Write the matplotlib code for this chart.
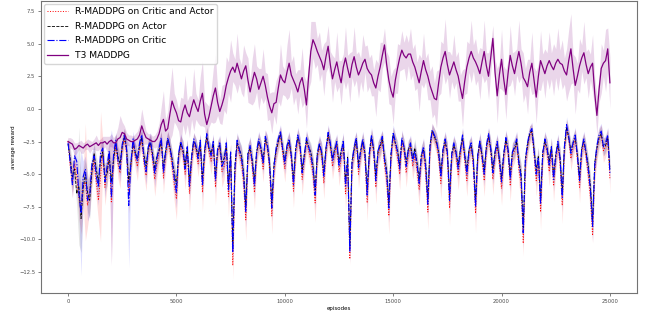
import numpy as np
import matplotlib
matplotlib.use("Agg")
import matplotlib.pyplot as plt

# episodes sampled every 100
episodes = np.arange(0, 25001, 100)

# R-MADDPG on Critic and Actor (red)
red_mean = [
    -2.5, -4.4, -5.5, -4.2, -5.2, -6.8, -7.6, -5.9, -5.6, -7.4,
    -6.2, -4.9, -4.0, -5.6, -7.0, -5.2, -3.2, -6.0, -4.8, -3.5,
    -7.2, -3.9, -2.8, -4.2, -4.9, -3.0, -2.3, -3.4, -6.4, -4.4,
    -2.7, -3.7, -4.4, -2.9, -2.4, -4.1, -5.1, -3.2, -2.7, -3.9,
    -5.4, -4.2, -3.3, -2.5, -5.3, -3.6, -2.5, -3.2, -4.4, -5.8,
    -6.9, -3.7, -2.8, -3.4, -5.0, -3.2, -6.5, -4.1, -2.6, -3.1,
    -4.2, -2.7, -6.4, -3.5, -2.2, -3.3, -4.0, -2.8, -6.0, -3.3,
    -2.9, -4.8, -4.4, -2.9, -6.8, -3.6, -12.0, -5.0, -2.7, -3.4,
    -4.1, -5.7, -8.5, -3.7, -3.1, -4.5, -6.4, -3.5, -2.6, -3.3,
    -4.6, -2.4, -3.0, -4.7, -8.2, -4.8, -3.3, -2.6, -2.0, -3.4,
    -4.6, -3.1, -2.6, -3.9, -6.3, -3.4, -2.3, -3.0, -5.4, -3.9,
    -2.5, -3.2, -3.9, -5.0, -7.2, -3.7, -2.9, -3.6, -5.7, -3.3,
    -2.1, -2.9, -4.4, -3.4, -2.8, -4.8, -3.8, -2.7, -6.5, -4.2,
    -11.5, -4.5, -3.2, -2.5, -5.0, -3.5, -2.6, -3.9, -7.2, -3.7,
    -2.3, -3.4, -6.0, -3.5, -3.0, -2.4, -4.3, -5.5, -8.2, -3.8,
    -2.1, -2.8, -3.7, -5.0, -2.5, -3.2, -4.9, -3.4, -2.9, -4.4,
    -3.6, -4.7, -6.2, -3.9, -3.2, -5.0, -7.9, -3.1, -1.8, -2.2,
    -2.7, -3.8, -5.7, -3.4, -2.6, -3.6, -7.6, -3.8, -2.9, -3.6,
    -5.1, -3.5, -2.3, -4.0, -5.5, -3.4, -2.9, -4.5, -8.0, -3.9,
    -2.7, -3.9, -5.5, -3.1, -2.2, -3.3, -5.4, -3.6, -2.8, -4.3,
    -6.1, -3.8, -2.5, -3.4, -5.9, -3.6, -3.2, -2.6, -4.7, -5.7,
    -10.3, -4.3, -2.9, -2.0, -1.8, -3.5, -5.5, -4.0, -7.9, -3.7,
    -2.6, -3.3, -4.8, -3.2, -5.9, -3.9, -2.8, -4.2, -7.4, -3.2,
    -1.5, -2.3, -3.8, -2.9, -2.3, -3.9, -6.0, -3.3, -2.6, -3.7,
    -5.1, -6.8, -9.7, -4.7, -3.1, -2.3, -2.0, -3.2, -2.9, -2.3,
    -5.4,
]
red_std = [
    0.4, 1.0, 1.3, 1.0, 1.2, 1.6, 2.0, 1.4, 4.5, 1.6,
    1.6, 1.1, 1.0, 1.3, 1.6, 5.0, 0.9, 1.4, 1.2, 0.9,
    4.8, 1.0, 0.9, 1.1, 1.2, 0.8, 0.8, 0.9, 1.6, 1.0,
    0.8, 0.9, 1.1, 0.8, 0.8, 1.0, 1.2, 0.8, 0.8, 1.0,
    1.3, 1.0, 0.9, 0.8, 1.2, 0.9, 0.8, 0.8, 1.1, 1.3,
    1.6, 0.9, 0.8, 0.9, 1.2, 0.8, 1.5, 1.0, 0.8, 0.8,
    1.0, 0.8, 1.5, 0.9, 0.8, 0.8, 1.0, 0.8, 1.4, 0.8,
    0.8, 1.2, 1.0, 0.8, 1.5, 0.9, 1.1, 1.0, 0.8, 0.9,
    1.0, 1.3, 1.6, 0.9, 0.9, 1.0, 1.3, 0.9, 0.8, 0.8,
    1.0, 0.8, 0.9, 1.0, 1.4, 1.0, 0.9, 0.7, 0.7, 0.9,
    1.0, 0.8, 0.8, 0.9, 1.3, 0.9, 0.8, 0.8, 1.2, 0.9,
    0.8, 0.8, 0.9, 1.2, 1.5, 0.9, 0.8, 0.9, 1.2, 0.8,
    0.8, 0.8, 1.0, 0.9, 0.8, 1.1, 0.9, 0.8, 1.3, 1.0,
    0.5, 1.0, 0.9, 0.7, 1.1, 0.9, 0.8, 0.9, 1.4, 0.9,
    0.8, 0.9, 1.3, 0.9, 0.9, 0.7, 1.0, 1.2, 1.4, 0.9,
    0.7, 0.8, 0.9, 1.2, 0.8, 0.8, 1.1, 0.9, 0.8, 1.0,
    0.9, 1.1, 1.2, 0.9, 0.9, 1.1, 1.4, 0.8, 0.7, 0.7,
    0.8, 0.9, 1.2, 0.9, 0.8, 0.9, 1.4, 0.9, 0.8, 0.9,
    1.1, 0.9, 0.8, 0.9, 1.2, 0.9, 0.8, 1.0, 1.5, 0.9,
    0.8, 0.9, 1.2, 0.8, 0.7, 0.9, 1.2, 0.9, 0.8, 1.0,
    1.3, 0.9, 0.8, 0.9, 1.2, 0.9, 0.9, 0.8, 1.1, 1.2,
    1.0, 1.0, 0.8, 0.7, 0.7, 0.9, 1.2, 0.9, 1.4, 0.9,
    0.8, 0.9, 1.1, 0.9, 1.2, 0.9, 0.8, 1.0, 1.4, 0.9,
    0.7, 0.8, 0.9, 0.8, 0.8, 0.9, 1.2, 0.9, 0.8, 0.9,
    1.0, 1.3, 0.6, 1.0, 0.9, 0.8, 0.8, 0.9, 0.8, 0.8,
    1.1,
]

# R-MADDPG on Actor (black)
black_mean = [
    -2.7, -3.8, -5.2, -4.6, -6.5, -5.9, -8.4, -6.0, -5.0, -6.4,
    -7.0, -4.8, -3.4, -4.6, -5.6, -3.9, -3.3, -5.2, -5.0, -3.6,
    -5.6, -3.9, -2.6, -3.6, -4.2, -2.9, -2.1, -3.0, -5.6, -4.2,
    -2.6, -3.3, -3.8, -2.8, -2.2, -3.5, -4.4, -3.0, -2.6, -3.4,
    -4.6, -3.6, -3.2, -2.4, -4.5, -3.2, -2.4, -2.9, -3.8, -4.9,
    -5.8, -3.5, -2.7, -3.1, -4.3, -3.0, -5.6, -3.6, -2.5, -2.9,
    -3.6, -2.6, -5.4, -3.2, -2.1, -3.0, -3.4, -2.7, -5.2, -3.1,
    -2.8, -4.1, -3.8, -2.8, -5.8, -3.4, -10.4, -4.3, -2.6, -3.1,
    -3.5, -4.9, -7.4, -3.4, -3.0, -3.9, -5.5, -3.3, -2.5, -3.0,
    -4.0, -2.3, -2.9, -4.1, -7.2, -4.2, -3.2, -2.5, -1.9, -3.0,
    -4.0, -2.9, -2.5, -3.5, -5.4, -3.1, -2.2, -2.8, -4.6, -3.5,
    -2.4, -2.9, -3.3, -4.3, -6.2, -3.4, -2.8, -3.3, -4.9, -3.0,
    -2.0, -2.7, -3.8, -3.1, -2.7, -4.1, -3.2, -2.6, -5.6, -3.7,
    -10.5, -4.0, -3.1, -2.4, -4.2, -3.2, -2.5, -3.4, -6.2, -3.3,
    -2.2, -3.1, -5.2, -3.2, -2.9, -2.3, -3.7, -4.7, -7.2, -3.4,
    -2.0, -2.6, -3.1, -4.3, -2.4, -2.9, -4.1, -3.1, -2.8, -3.8,
    -3.0, -4.1, -5.4, -3.5, -3.1, -4.2, -6.9, -2.8, -1.7, -2.1,
    -2.6, -3.3, -4.9, -3.1, -2.5, -3.3, -6.6, -3.4, -2.8, -3.3,
    -4.3, -3.1, -2.2, -3.5, -4.7, -3.1, -2.8, -3.9, -7.1, -3.5,
    -2.6, -3.5, -4.7, -2.9, -2.1, -3.0, -4.6, -3.3, -2.7, -3.8,
    -5.3, -3.4, -2.4, -3.1, -5.1, -3.3, -3.1, -2.5, -4.0, -4.9,
    -9.1, -3.8, -2.8, -1.9, -1.7, -3.1, -4.7, -3.6, -6.9, -3.3,
    -2.5, -3.0, -4.0, -2.9, -5.1, -3.5, -2.7, -3.7, -6.4, -2.9,
    -1.4, -2.2, -3.2, -2.6, -2.2, -3.5, -5.2, -3.0, -2.5, -3.3,
    -4.3, -5.9, -8.6, -4.1, -3.0, -2.2, -1.9, -2.9, -2.8, -2.2,
    -4.6,
]
black_std = [
    0.4, 0.9, 1.2, 0.8, 1.0, 4.5, 2.6, 1.4, 1.1, 1.5,
    1.4, 0.9, 0.8, 1.0, 1.2, 0.8, 0.8, 1.1, 0.9, 0.7,
    1.5, 0.8, 0.7, 0.8, 0.9, 0.6, 0.6, 0.7, 1.4, 0.8,
    0.6, 0.7, 0.8, 0.6, 0.6, 0.7, 0.9, 0.6, 0.6, 0.7,
    0.9, 0.7, 0.7, 0.6, 0.8, 0.7, 0.6, 0.6, 0.7, 0.9,
    1.1, 0.7, 0.6, 0.7, 0.8, 0.6, 1.0, 0.7, 0.6, 0.6,
    0.7, 0.6, 1.0, 0.7, 0.6, 0.6, 0.7, 0.6, 0.9, 0.6,
    0.6, 0.8, 0.7, 0.6, 1.0, 0.7, 1.0, 0.8, 0.6, 0.7,
    0.7, 0.9, 1.1, 0.7, 0.7, 0.7, 0.9, 0.7, 0.6, 0.6,
    0.7, 0.6, 0.7, 0.7, 1.0, 0.7, 0.7, 0.6, 0.5, 0.7,
    0.7, 0.6, 0.6, 0.7, 0.9, 0.7, 0.6, 0.6, 0.8, 0.7,
    0.6, 0.6, 0.7, 0.8, 1.0, 0.7, 0.6, 0.7, 0.8, 0.6,
    0.6, 0.6, 0.7, 0.7, 0.6, 0.7, 0.7, 0.6, 0.9, 0.7,
    0.9, 0.7, 0.7, 0.6, 0.7, 0.7, 0.6, 0.7, 1.0, 0.7,
    0.6, 0.7, 0.9, 0.7, 0.7, 0.6, 0.7, 0.8, 1.0, 0.7,
    0.6, 0.6, 0.7, 0.8, 0.6, 0.6, 0.7, 0.7, 0.6, 0.7,
    0.7, 0.7, 0.9, 0.7, 0.7, 0.7, 1.0, 0.6, 0.5, 0.6,
    0.6, 0.7, 0.8, 0.7, 0.6, 0.7, 1.0, 0.7, 0.6, 0.7,
    0.7, 0.7, 0.6, 0.7, 0.8, 0.7, 0.6, 0.7, 1.0, 0.7,
    0.6, 0.7, 0.8, 0.6, 0.6, 0.7, 0.8, 0.7, 0.6, 0.7,
    0.9, 0.7, 0.6, 0.7, 0.8, 0.7, 0.7, 0.6, 0.7, 0.8,
    1.1, 0.7, 0.6, 0.6, 0.5, 0.7, 0.8, 0.7, 1.0, 0.7,
    0.6, 0.7, 0.7, 0.7, 0.8, 0.7, 0.6, 0.7, 1.0, 0.7,
    0.6, 0.6, 0.7, 0.6, 0.6, 0.7, 0.8, 0.7, 0.6, 0.7,
    0.7, 0.9, 1.1, 0.8, 0.7, 0.6, 0.6, 0.7, 0.6, 0.6,
    0.8,
]

# R-MADDPG on Critic (blue)
blue_mean = [
    -2.6, -4.1, -5.8, -3.6, -4.0, -6.5, -8.0, -5.2, -4.6, -7.0,
    -6.6, -4.2, -3.6, -5.1, -6.0, -3.4, -3.0, -5.6, -4.4, -3.2,
    -6.8, -3.5, -2.4, -3.9, -4.6, -2.7, -2.0, -3.1, -7.4, -4.1,
    -2.3, -3.4, -4.0, -2.6, -2.0, -3.8, -4.8, -2.9, -2.4, -3.6,
    -5.0, -3.8, -3.0, -2.2, -4.9, -3.3, -2.2, -2.9, -4.0, -5.3,
    -6.4, -3.4, -2.5, -3.1, -4.6, -2.9, -6.0, -3.7, -2.3, -2.8,
    -3.8, -2.4, -5.9, -3.2, -1.9, -3.0, -3.6, -2.5, -5.5, -3.0,
    -2.6, -4.4, -4.0, -2.6, -6.2, -3.3, -11.0, -4.5, -2.4, -3.1,
    -3.7, -5.2, -7.9, -3.4, -2.8, -4.1, -5.9, -3.2, -2.3, -3.0,
    -4.2, -2.1, -2.7, -4.3, -7.6, -4.4, -3.0, -2.3, -1.7, -3.1,
    -4.2, -2.8, -2.3, -3.6, -5.8, -3.1, -2.0, -2.7, -4.9, -3.6,
    -2.2, -2.9, -3.5, -4.6, -6.6, -3.4, -2.6, -3.3, -5.2, -3.0,
    -1.8, -2.6, -4.0, -3.1, -2.5, -4.4, -3.4, -2.4, -5.9, -3.8,
    -10.9, -4.1, -2.9, -2.2, -4.5, -3.2, -2.3, -3.5, -6.6, -3.4,
    -2.0, -3.1, -5.5, -3.2, -2.7, -2.1, -3.9, -5.0, -7.6, -3.5,
    -1.8, -2.5, -3.3, -4.6, -2.2, -2.9, -4.4, -3.1, -2.6, -4.0,
    -3.2, -4.3, -5.7, -3.6, -2.9, -4.5, -7.3, -2.8, -1.6, -2.0,
    -2.4, -3.4, -5.2, -3.1, -2.3, -3.3, -7.0, -3.5, -2.6, -3.3,
    -4.6, -3.2, -2.0, -3.6, -5.0, -3.1, -2.6, -4.1, -7.5, -3.6,
    -2.4, -3.6, -5.0, -2.8, -1.9, -3.0, -4.9, -3.3, -2.5, -3.9,
    -5.6, -3.5, -2.2, -3.1, -5.4, -3.3, -2.9, -2.3, -4.2, -5.2,
    -9.5, -3.9, -2.6, -1.8, -1.5, -3.2, -5.0, -3.7, -7.3, -3.4,
    -2.3, -3.0, -4.3, -2.9, -5.4, -3.6, -2.5, -3.8, -6.8, -2.9,
    -1.2, -2.1, -3.4, -2.6, -2.0, -3.6, -5.5, -3.0, -2.3, -3.4,
    -4.6, -6.2, -9.0, -4.3, -2.8, -2.0, -1.7, -2.9, -2.6, -2.0,
    -4.9,
]
blue_std = [
    0.4, 0.8, 1.0, 0.7, 0.9, 1.5, 4.8, 1.2, 1.0, 1.6,
    1.5, 0.9, 0.8, 1.0, 1.4, 0.7, 0.7, 1.2, 1.0, 0.7,
    5.2, 0.8, 0.6, 0.8, 1.0, 0.6, 0.5, 0.7, 4.8, 0.9,
    0.6, 0.7, 0.9, 0.6, 0.5, 0.8, 1.0, 0.6, 0.6, 0.8,
    1.0, 0.8, 0.7, 0.5, 0.9, 0.7, 0.5, 0.6, 0.8, 1.0,
    1.2, 0.7, 0.6, 0.7, 0.9, 0.6, 1.1, 0.8, 0.5, 0.6,
    0.8, 0.5, 1.1, 0.7, 0.5, 0.6, 0.8, 0.6, 1.0, 0.6,
    0.6, 0.9, 0.8, 0.6, 1.1, 0.7, 1.0, 0.9, 0.6, 0.7,
    0.8, 1.0, 1.2, 0.7, 0.7, 0.8, 1.0, 0.7, 0.6, 0.6,
    0.8, 0.5, 0.7, 0.8, 1.0, 0.8, 0.7, 0.5, 0.5, 0.7,
    0.8, 0.6, 0.6, 0.7, 1.0, 0.7, 0.6, 0.6, 0.9, 0.7,
    0.6, 0.6, 0.7, 0.9, 1.1, 0.7, 0.6, 0.7, 0.9, 0.6,
    0.6, 0.6, 0.8, 0.7, 0.6, 0.8, 0.7, 0.6, 1.0, 0.8,
    0.9, 0.8, 0.7, 0.5, 0.8, 0.7, 0.6, 0.7, 1.1, 0.7,
    0.6, 0.7, 1.0, 0.7, 0.7, 0.5, 0.8, 0.9, 1.1, 0.7,
    0.6, 0.6, 0.7, 0.9, 0.6, 0.6, 0.8, 0.7, 0.6, 0.8,
    0.7, 0.8, 1.0, 0.7, 0.7, 0.8, 1.1, 0.6, 0.5, 0.5,
    0.6, 0.7, 0.9, 0.7, 0.6, 0.7, 1.1, 0.7, 0.6, 0.7,
    0.8, 0.7, 0.6, 0.7, 0.9, 0.7, 0.6, 0.8, 1.1, 0.7,
    0.6, 0.7, 0.9, 0.6, 0.5, 0.7, 0.9, 0.7, 0.6, 0.8,
    1.0, 0.7, 0.6, 0.7, 0.9, 0.7, 0.7, 0.6, 0.8, 0.9,
    1.2, 0.8, 0.6, 0.5, 0.5, 0.7, 0.9, 0.7, 1.1, 0.7,
    0.6, 0.7, 0.8, 0.7, 0.9, 0.7, 0.6, 0.8, 1.1, 0.7,
    0.6, 0.6, 0.7, 0.6, 0.6, 0.7, 0.9, 0.7, 0.6, 0.7,
    0.8, 1.0, 1.2, 0.8, 0.7, 0.6, 0.6, 0.7, 0.6, 0.6,
    0.9,
]

# T3 MADDPG (purple)
t3_mean = [
    -2.5, -2.6, -2.7, -3.1, -3.0, -2.8, -2.9, -3.0, -2.8, -2.7,
    -2.9, -2.8, -2.7, -2.6, -2.8, -2.6, -2.6, -2.5, -2.7, -2.5,
    -2.4, -2.6, -2.6, -2.3, -2.2, -1.8, -1.9, -2.3, -2.4, -2.5,
    -2.5, -2.4, -2.3, -2.0, -1.3, -1.8, -2.2, -2.3, -2.4, -2.5,
    -2.5, -2.3, -1.9, -1.2, -0.8, -1.7, -1.5, -0.4, 0.6, 0.1,
    -0.3, -0.9, -1.0, -0.2, 0.3, -0.3, -0.6, 0.1, 0.7, 0.2,
    -0.2, 0.6, 1.2, -0.4, -1.2, -0.6, 0.2, 1.0, 1.6, 0.5,
    -0.2, 0.3, 0.9, 1.8, 2.4, 2.9, 3.2, 2.8, 3.5, 2.9,
    2.3, 2.9, 3.3, 2.2, 1.3, 2.1, 2.8, 2.3, 1.5, 2.0,
    2.5, 1.8, 0.9, 0.2, -0.3, 0.4, 0.5, 1.6, 2.6, 2.2,
    2.0, 2.8, 3.5, 2.6, 2.2, 1.8, 1.3, 2.0, 2.4, 1.5,
    0.3, 2.5, 4.4, 5.3, 4.9, 4.4, 4.0, 3.6, 3.0, 4.0,
    4.8, 3.4, 2.3, 3.0, 3.6, 2.7, 2.0, 3.2, 3.9, 3.1,
    2.4, 3.4, 4.0, 3.2, 2.6, 3.0, 3.5, 3.8, 3.1, 2.8,
    2.6, 2.0, 1.6, 2.5, 3.2, 4.1, 4.9, 3.4, 2.2, 1.4,
    0.9, 2.2, 3.1, 3.9, 4.5, 4.1, 3.9, 4.2, 4.2, 3.6,
    3.2, 2.6, 2.0, 2.9, 3.7, 3.0, 2.5, 1.8, 1.3, 0.8,
    0.7, 2.0, 3.2, 3.9, 4.4, 3.4, 2.6, 3.1, 3.6, 3.0,
    2.5, 1.6, 0.8, 2.1, 3.2, 3.9, 4.4, 3.9, 3.6, 3.2,
    2.7, 3.6, 4.4, 3.3, 2.5, 3.9, 5.4, 2.8, 1.0, 2.6,
    3.8, 2.3, 1.1, 2.7, 4.1, 3.3, 2.7, 3.6, 4.4, 3.5,
    2.4, 2.1, 1.7, 2.8, 3.5, 2.2, 0.9, 2.5, 3.7, 3.2,
    2.7, 3.3, 3.7, 3.3, 3.0, 3.5, 3.8, 3.5, 3.4, 2.9,
    2.6, 3.7, 4.6, 3.1, 1.8, 2.5, 3.3, 3.9, 4.3, 3.4,
    2.7, 3.2, 3.5, 1.2, -0.5, 1.5, 3.1, 3.5, 3.7, 4.6,
    2.0,
]
t3_std = [
    0.3, 0.4, 0.4, 0.5, 0.4, 0.3, 0.5, 0.4, 0.3, 0.4,
    0.5, 0.3, 0.4, 0.6, 0.4, 0.3, 0.5, 0.4, 0.6, 0.4,
    0.5, 0.4, 0.6, 0.9, 1.7, 0.8, 0.6, 0.5, 0.4, 0.5,
    0.4, 0.5, 0.6, 0.8, 1.3, 0.9, 0.5, 0.4, 0.5, 0.4,
    0.5, 0.6, 0.8, 1.4, 2.2, 0.9, 1.3, 2.0, 2.6, 1.1,
    1.0, 0.8, 1.9, 1.0, 2.3, 0.9, 1.6, 0.9, 2.4, 1.0,
    0.9, 1.9, 2.5, 1.0, 1.6, 0.8, 1.2, 2.1, 2.6, 1.0,
    0.9, 1.5, 1.0, 2.2, 1.2, 2.4, 1.1, 1.0, 2.3, 1.0,
    1.1, 2.0, 1.0, 1.7, 0.9, 1.8, 2.2, 1.0, 1.6, 1.1,
    2.1, 1.0, 1.8, 1.0, 1.6, 0.9, 1.7, 1.0, 2.4, 1.1,
    1.0, 2.1, 2.6, 1.0, 1.9, 0.9, 1.7, 1.0, 2.3, 1.0,
    1.8, 1.0, 2.3, 1.4, 1.8, 1.0, 1.9, 0.9, 2.0, 1.2,
    1.6, 1.0, 1.8, 0.9, 2.3, 1.0, 1.7, 1.0, 2.4, 1.0,
    1.9, 1.0, 2.3, 1.0, 1.8, 0.9, 2.2, 1.0, 1.8, 1.1,
    1.6, 1.0, 2.2, 1.0, 1.9, 1.0, 1.3, 1.0, 1.8, 1.1,
    2.1, 1.0, 1.9, 1.0, 1.5, 1.0, 1.8, 0.9, 2.0, 1.0,
    1.8, 1.0, 2.2, 1.0, 2.1, 0.9, 1.8, 1.1, 2.0, 1.2,
    2.2, 1.0, 2.0, 1.1, 2.5, 1.0, 1.8, 1.0, 2.1, 1.0,
    1.9, 1.0, 2.2, 1.0, 2.0, 1.1, 2.4, 1.0, 1.8, 1.0,
    2.0, 1.0, 2.4, 1.0, 1.8, 1.1, 1.0, 1.0, 2.1, 1.0,
    2.3, 1.0, 1.9, 1.0, 2.3, 1.0, 1.7, 1.0, 2.4, 1.1,
    1.9, 1.0, 2.1, 1.0, 2.4, 1.0, 2.0, 1.0, 2.3, 1.0,
    1.9, 1.0, 2.2, 1.0, 2.0, 1.1, 2.4, 1.0, 1.9, 1.0,
    2.0, 2.4, 2.7, 1.1, 2.2, 1.0, 2.1, 1.0, 2.4, 1.0,
    1.9, 1.0, 2.2, 1.2, 1.5, 1.0, 1.9, 1.0, 2.4, 1.6,
    2.0,
]

series = [
    ("R-MADDPG on Critic and Actor", red_mean, red_std, "red", ":", 0.7, 0.13),
    ("R-MADDPG on Actor", black_mean, black_std, "black", "--", 0.6, 0.1),
    ("R-MADDPG on Critic", blue_mean, blue_std, "blue", "-.", 0.8, 0.13),
    ("T3 MADDPG", t3_mean, t3_std, "purple", "-", 0.9, 0.16),
]

fig = plt.figure(figsize=(6.5, 3.11), dpi=100)
ax = fig.add_axes([0.063, 0.058, 0.917, 0.939])

for label, mean, std, color, ls, lw, fill_alpha in series:
    mean = np.array(mean)
    std = np.array(std)
    ax.plot(episodes, mean, color=color, linestyle=ls, linewidth=lw, label=label)
    ax.fill_between(episodes, mean - std, mean + std, color=color,
                    alpha=fill_alpha, linewidth=0)

ax.set_xlim(-1250, 26250)
ax.set_ylim(-14.1, 8.27)
ax.set_xticks([0, 5000, 10000, 15000, 20000, 25000])
ax.set_yticks([-12.5, -10.0, -7.5, -5.0, -2.5, 0.0, 2.5, 5.0, 7.5])
ax.tick_params(labelsize=3.8, length=2, width=0.5, pad=2, colors="0.3")
ax.set_xlabel("episodes", fontsize=4, labelpad=1.5)
ax.set_ylabel("average reward", fontsize=4, labelpad=2)

for spine in ax.spines.values():
    spine.set_color("0.45")
    spine.set_linewidth(0.8)

ax.legend(loc="upper left", fontsize=6.6, frameon=True, borderaxespad=0.3,
          handlelength=2.2, labelspacing=0.6, fancybox=True, framealpha=0.8)

fig.savefig("out.png", dpi=100)
